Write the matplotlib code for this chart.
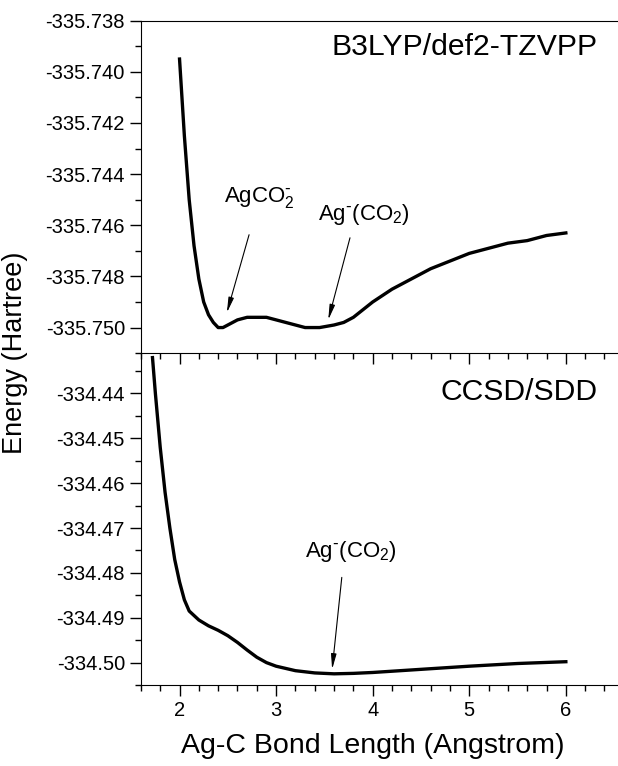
import matplotlib
matplotlib.use('Agg')
import matplotlib.pyplot as plt
from matplotlib.ticker import MultipleLocator, FormatStrFormatter

plt.rcParams['font.family'] = ['Liberation Sans', 'DejaVu Sans']
plt.rcParams['mathtext.default'] = 'regular'

# B3LYP/def2-TZVPP scan
r_dft = [2.0, 2.05, 2.1, 2.15, 2.2, 2.25, 2.3, 2.35, 2.4, 2.45, 2.5, 2.6, 2.7,
         2.8, 2.9, 3.0, 3.1, 3.2, 3.3, 3.45, 3.6, 3.7, 3.8, 3.9, 4.0, 4.2,
         4.4, 4.6, 4.8, 5.0, 5.2, 5.4, 5.6, 5.8, 6.0]
e_dft = [-335.7395, -335.7425, -335.7450, -335.7468, -335.7481, -335.7490,
         -335.7495, -335.7498, -335.7500, -335.7500, -335.7499, -335.7497,
         -335.7496, -335.7496, -335.7496, -335.7497, -335.7498, -335.7499,
         -335.7500, -335.7500, -335.7499, -335.7498, -335.7496, -335.7493,
         -335.7490, -335.7485, -335.7481, -335.7477, -335.7474, -335.7471,
         -335.7469, -335.7467, -335.7466, -335.7464, -335.7463]

# CCSD/SDD scan
r_cc = [1.72, 1.75, 1.8, 1.85, 1.9, 1.95, 2.0, 2.05, 2.1, 2.2, 2.3, 2.4, 2.5,
        2.6, 2.7, 2.8, 2.9, 3.0, 3.2, 3.4, 3.6, 3.8, 4.0, 4.5, 5.0, 5.5, 6.0]
e_cc = [-334.432, -334.440, -334.452, -334.462, -334.470, -334.477, -334.482,
        -334.486, -334.4885, -334.4905, -334.4918, -334.4928, -334.4940,
        -334.4955, -334.4972, -334.4988, -334.5000, -334.5008, -334.5018,
        -334.5023, -334.5025, -334.5024, -334.5022, -334.5015, -334.5008,
        -334.5002, -334.4998]

fig = plt.figure(figsize=(6.18, 7.66), dpi=100)
ax1 = fig.add_axes([0.228, 0.539, 0.772, 0.434])
ax2 = fig.add_axes([0.228, 0.1057, 0.772, 0.4333])
ax1.set_zorder(3)
ax1.patch.set_alpha(0)

ax1.plot(r_dft, e_dft, color='black', lw=2.4)
ax2.plot(r_cc, e_cc, color='black', lw=2.4)

for ax in (ax1, ax2):
    ax.set_xlim(1.6, 6.54)
    ax.spines['right'].set_visible(False)
    ax.xaxis.set_major_locator(MultipleLocator(1))
    ax.xaxis.set_minor_locator(MultipleLocator(0.2))
    ax.tick_params(which='major', length=8, width=1, labelsize=14.5)
    ax.tick_params(which='minor', length=4.5, width=1)
    ax.tick_params(axis='both', which='both', direction='out', top=False, right=False)

ax1.set_ylim(-335.7510, -335.7380)
ax1.yaxis.set_major_locator(MultipleLocator(0.002))
ax1.yaxis.set_minor_locator(MultipleLocator(0.001))
ax1.yaxis.set_major_formatter(FormatStrFormatter('%.3f'))
ax1.tick_params(axis='x', which='both', bottom=True, labelbottom=False)
ax1.spines['bottom'].set_visible(False)

ax2.set_ylim(-334.505, -334.431)
ax2.yaxis.set_major_locator(MultipleLocator(0.01))
ax2.yaxis.set_minor_locator(MultipleLocator(0.005))
ax2.yaxis.set_major_formatter(FormatStrFormatter('%.2f'))

ax1.text(0.958, 0.921, 'B3LYP/def2-TZVPP', transform=ax1.transAxes,
         ha='right', va='center', fontsize=21.7)
ax2.text(0.958, 0.882, 'CCSD/SDD', transform=ax2.transAxes,
         ha='right', va='center', fontsize=21.7)

arrow = dict(arrowstyle='-|>,head_width=0.16,head_length=0.9', color='black',
             lw=0.8, shrinkA=0, shrinkB=0)
ax1.text(2.83, -335.7449, r'AgCO$_2^{\text{-}}$', ha='center', va='center', fontsize=16)
ax1.annotate('', xy=(2.49, -335.74942), xytext=(2.72, -335.74637), arrowprops=arrow)
ax1.text(3.91, -335.74559, r'Ag$^{\text{-}}$(CO$_2$)', ha='center', va='center', fontsize=16)
ax1.annotate('', xy=(3.54, -335.7497), xytext=(3.765, -335.74649), arrowprops=arrow)
ax2.text(3.78, -334.4753, r'Ag$^{\text{-}}$(CO$_2$)', ha='center', va='center', fontsize=16)
ax2.annotate('', xy=(3.58, -334.5015), xytext=(3.68, -334.481), arrowprops=arrow)

ax2.set_xlabel('Ag-C Bond Length (Angstrom)', fontsize=20.5)
ax2.xaxis.set_label_coords(0.486, -0.145)
fig.text(0.025, 1 - 353 / 766, 'Energy (Hartree)', rotation=90,
         ha='center', va='center', fontsize=19.5)

fig.savefig('out.png', dpi=100, facecolor='white')
